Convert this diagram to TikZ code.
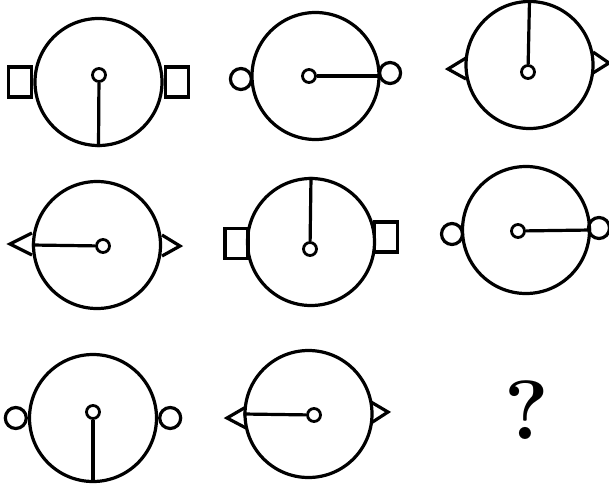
\documentclass[tikz,border=0pt]{standalone}
\usepackage{tikz}
\usetikzlibrary{positioning}

\begin{document}
\begin{tikzpicture}[x=1pt, y=-1pt, line width=3.2pt,
  face/.style={draw,circle,minimum size=127pt,inner sep=0pt},
  hub/.style={draw,circle,minimum size=13pt,inner sep=0pt,line width=2.8pt},
  knob/.style={draw,circle,minimum size=21pt,inner sep=0pt},
  lug/.style={draw,rectangle,minimum width=23pt,minimum height=30pt,inner sep=0pt}]
\useasboundingbox (0,0) rectangle (609,490);
% row 1
\node[face] (f1) at (98.5,82) {};
\node[hub] (h1) at (99,75) {};
\node[lug,anchor=east] (l1) at (f1.west) {};
\node[lug,anchor=west] (r1) at (f1.east) {};
\draw (h1) -- (f1.south);

\node[face] (f2) at (315.5,76) {};
\node[hub] (h2) at (309,76) {};
\node[knob,anchor=east] (l2) at (253,79) {};
\node[knob,anchor=west] (r2) at (378,73) {};
\draw (h2) -- (f2.east);

\node[face] (f3) at (529.5,65) {};
\node[hub] (h3) at (528,72) {};
\draw (466,58) -- (448,69) -- (466,79);
\draw (593,52) -- (609,63) -- (593,73);
\draw (h3) -- (f3.north);
% row 2
\node[face] (f4) at (97,245) {};
\node[hub] (h4) at (103,246) {};
\draw (32,233) -- (10,244) -- (32,255);
\draw (162,235) -- (180,246) -- (162,256);
\draw (h4) -- (f4.west);

\node[face] (f5) at (311,242) {};
\node[hub] (h5) at (310,249) {};
\node[lug,anchor=east] (l5) at (249.5,243.5) {};
\node[lug,anchor=west] (r5) at (372.5,237) {};
\draw (h5) -- (f5.north);

\node[face] (f6) at (526,230) {};
\node[hub] (h6) at (518,231) {};
\node[knob] (l6) at (452,234) {};
\node[knob] (r6) at (599,228) {};
\draw (h6) -- (f6.east);
% row 3
\node[face] (f7) at (93,418) {};
\node[hub] (h7) at (93,412) {};
\node[knob,anchor=east] (l7) at (f7.west) {};
\node[knob,anchor=west] (r7) at (f7.east) {};
\draw (h7) -- (f7.south);

\node[face] (f8) at (308.5,414) {};
\node[hub] (h8) at (314,415) {};
\draw (246,407) -- (227,418) -- (246,428);
\draw (371,402) -- (388,412) -- (371,423);
\draw (h8) -- (f8.west);

\node[font=\fontsize{84}{84}\selectfont\bfseries] (q) at (527,410) {?};
\end{tikzpicture}
\end{document}
